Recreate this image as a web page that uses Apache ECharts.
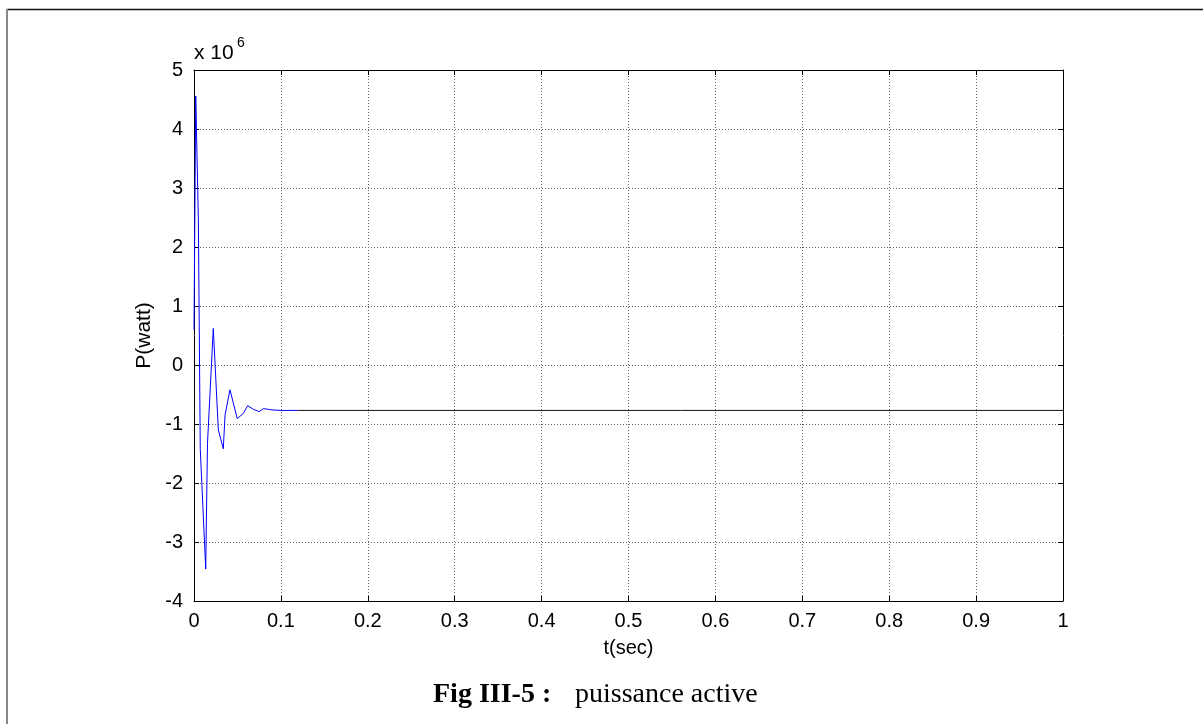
<!DOCTYPE html>
<html>
<head>
<meta charset="utf-8">
<script src="https://cdn.jsdelivr.net/npm/echarts@6/dist/echarts.min.js"></script>
<style>
html,body{margin:0;padding:0;background:#fff;}
#chart{width:1203px;height:724px;}
</style>
</head>
<body>
<div id="chart"></div>
<script>
// time (s) and active power (W)
var tTransient = [0, 0.002, 0.005, 0.0072, 0.0135, 0.0155, 0.0222, 0.028, 0.0337, 0.0357, 0.0414, 0.0498, 0.0567, 0.0618, 0.0682, 0.0751, 0.0797, 0.0855, 0.0886, 0.1, 0.12];
var pTransient = [0.6e6, 4.56e6, 2.48e6, -1.42e6, -3.46e6, -1.33e6, 0.62e6, -1.1e6, -1.42e6, -0.85e6, -0.42e6, -0.91e6, -0.82e6, -0.69e6, -0.75e6, -0.79e6, -0.74e6, -0.75e6, -0.76e6, -0.77e6, -0.77e6];
var tSteady = [0.12, 1];
var pSteady = [-0.77e6, -0.77e6];
var xTicks = [0, 0.1, 0.2, 0.3, 0.4, 0.5, 0.6, 0.7, 0.8, 0.9, 1];
var yTicks = [-4, -3, -2, -1, 0, 1, 2, 3, 4, 5];

var chart = echarts.init(document.getElementById('chart'), null, {renderer: 'canvas'});
var FONT = '"Liberation Sans", Arial, sans-serif';
var SERIF = '"Liberation Serif", "Times New Roman", serif';
function zip(a, b) { return a.map(function (v, i) { return [v, b[i]]; }); }

var tickStyle = {show: true, inside: true, length: 5, lineStyle: {color: '#000', width: 1}};
var gridStyle = {show: true, lineStyle: {color: '#666', width: 1, type: [1, 2]}};

chart.setOption({
  backgroundColor: '#fff',
  animation: false,
  grid: {left: 194, right: 140, top: 70, bottom: 123, containLabel: false},
  xAxis: [{
    type: 'value', min: 0, max: 1, interval: 0.1, position: 'bottom',
    name: 't(sec)', nameLocation: 'middle', nameGap: 37,
    nameTextStyle: {fontFamily: FONT, fontSize: 20, color: '#000'},
    axisLine: {show: true, onZero: false, lineStyle: {color: '#000', width: 1}},
    axisTick: tickStyle,
    axisLabel: {fontFamily: FONT, fontSize: 20, color: '#000', margin: 10,
      formatter: function (v) { return String(Math.round(v * 10) / 10); }},
    splitLine: gridStyle
  }, {
    type: 'value', min: 0, max: 1, interval: 0.1, position: 'top',
    axisLine: {show: true, onZero: false, lineStyle: {color: '#000', width: 1}},
    axisTick: tickStyle, axisLabel: {show: false}, splitLine: {show: false}
  }],
  yAxis: [{
    type: 'value', min: -4e6, max: 5e6, interval: 1e6, position: 'left',
    name: 'P(watt)', nameLocation: 'middle', nameGap: 38, nameRotate: 90,
    nameTextStyle: {fontFamily: FONT, fontSize: 21, color: '#000'},
    axisLine: {show: true, onZero: false, lineStyle: {color: '#000', width: 1}},
    axisTick: tickStyle,
    axisLabel: {fontFamily: FONT, fontSize: 20, color: '#000', margin: 11,
      formatter: function (v) { return String(Math.round(v / 1e6)); }},
    splitLine: gridStyle
  }, {
    type: 'value', min: -4e6, max: 5e6, interval: 1e6, position: 'right',
    axisLine: {show: true, onZero: false, lineStyle: {color: '#000', width: 1}},
    axisTick: tickStyle, axisLabel: {show: false}, splitLine: {show: false}
  }],
  series: [{
    type: 'line', data: zip(tTransient, pTransient), showSymbol: false,
    lineStyle: {color: '#0000ff', width: 1}, xAxisIndex: 0, yAxisIndex: 0, z: 3
  }, {
    type: 'line', data: zip(tSteady, pSteady), showSymbol: false,
    lineStyle: {color: '#111111', width: 1}, xAxisIndex: 0, yAxisIndex: 0, z: 3
  }],
  graphic: [
    {type: 'line', shape: {x1: 7, y1: 9.5, x2: 1203, y2: 9.5}, style: {stroke: '#111', lineWidth: 1.5}},
    {type: 'line', shape: {x1: 7, y1: 9, x2: 7, y2: 724}, style: {stroke: '#888', lineWidth: 2}},
    {type: 'text', x: 194, y: 43, style: {text: 'x 10', font: '21px ' + FONT, fill: '#000', textVerticalAlign: 'top'}},
    {type: 'text', x: 237, y: 36, style: {text: '6', font: '14px ' + FONT, fill: '#000', textVerticalAlign: 'top'}},
    {type: 'text', x: 433, y: 681, style: {text: 'Fig III-5 :', font: 'bold 28px ' + SERIF, fill: '#000', textVerticalAlign: 'top'}},
    {type: 'text', x: 575, y: 681, style: {text: 'puissance active', font: '28px ' + SERIF, fill: '#000', textVerticalAlign: 'top'}}
  ]
});
</script>
</body>
</html>
